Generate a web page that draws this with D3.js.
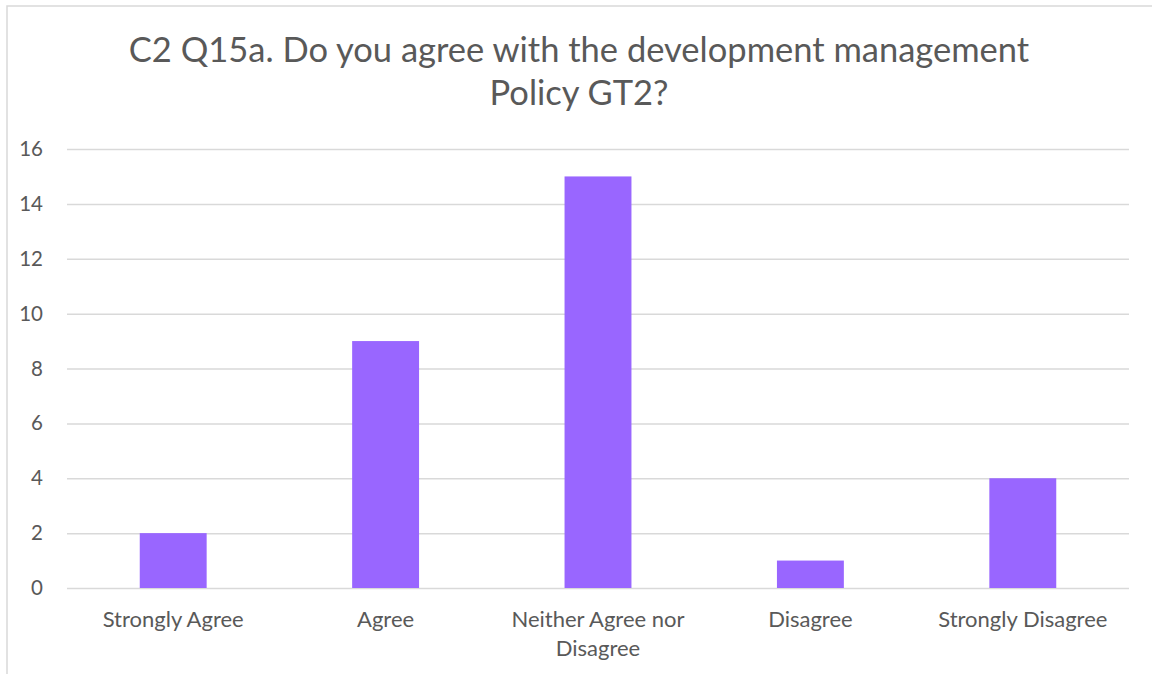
<!DOCTYPE html>
<html>
<head>
<meta charset="utf-8">
<script src="https://cdn.jsdelivr.net/npm/d3@7"></script>
<style>
  html, body { margin: 0; padding: 0; background: #fff; }
  svg { display: block; font-family: Lato, "Open Sans", sans-serif; }
</style>
</head>
<body>
<svg id="chart" width="1152" height="674"></svg>
<script>
// Survey responses for question C2 Q15a
const categories = ["Strongly Agree", "Agree", "Neither Agree nor Disagree", "Disagree", "Strongly Disagree"];
const categoryLines = [["Strongly Agree"], ["Agree"], ["Neither Agree nor", "Disagree"], ["Disagree"], ["Strongly Disagree"]];
const counts = [2, 9, 15, 1, 4];
const yTicks = [0, 2, 4, 6, 8, 10, 12, 14, 16];
const titleLines = ["C2 Q15a. Do you agree with the development management", "Policy GT2?"];

const svg = d3.select("#chart");
const W = 1152, H = 674;
const plot = { left: 67, right: 1129, top: 149, bottom: 588 };
const textColor = "#595959";

// outer chart frame (top and left edges visible)
svg.append("rect")
  .attr("x", 7).attr("y", 6)
  .attr("width", W + 10).attr("height", H + 10)
  .attr("fill", "#fff")
  .attr("stroke", "#d9d9d9").attr("stroke-width", 1.5);

const x = d3.scaleBand()
  .domain(categories)
  .range([plot.left, plot.right])
  .paddingInner(0.685)
  .paddingOuter(0.3425);

const y = d3.scaleLinear()
  .domain([0, 16])
  .range([plot.bottom, plot.top]);

// gridlines
const yAxis = d3.axisLeft(y)
  .tickValues(yTicks)
  .tickSize(-(plot.right - plot.left))
  .tickPadding(24)
  .tickFormat(d3.format("d"));

const gy = svg.append("g")
  .attr("transform", `translate(${plot.left},0)`)
  .call(yAxis);
gy.select(".domain").remove();
gy.selectAll(".tick line")
  .attr("stroke", "#d9d9d9")
  .attr("stroke-width", 1.5);
gy.selectAll(".tick text")
  .attr("fill", textColor)
  .attr("font-size", 20.5)
  .attr("font-family", "Lato, 'Open Sans', sans-serif");

// bars
svg.append("g")
  .selectAll("rect")
  .data(counts)
  .join("rect")
  .attr("x", (d, i) => x(categories[i]))
  .attr("y", d => y(d))
  .attr("width", x.bandwidth())
  .attr("height", d => y(0) - y(d))
  .attr("fill", "#9966ff");

// category labels
const labels = svg.append("g")
  .attr("fill", textColor)
  .attr("font-size", 22)
  .attr("text-anchor", "middle");
categoryLines.forEach((lines, i) => {
  const cx = x(categories[i]) + x.bandwidth() / 2;
  const t = labels.append("text").attr("x", cx).attr("y", 627);
  lines.forEach((ln, j) => {
    t.append("tspan").attr("x", cx).attr("dy", j === 0 ? 0 : 28.5).text(ln);
  });
});

// title
const title = svg.append("text")
  .attr("fill", textColor)
  .attr("font-size", 34.5)
  .attr("text-anchor", "middle")
  .attr("y", 62);
titleLines.forEach((ln, j) => {
  title.append("tspan").attr("x", 579).attr("dy", j === 0 ? 0 : 43).text(ln);
});
</script>
</body>
</html>
